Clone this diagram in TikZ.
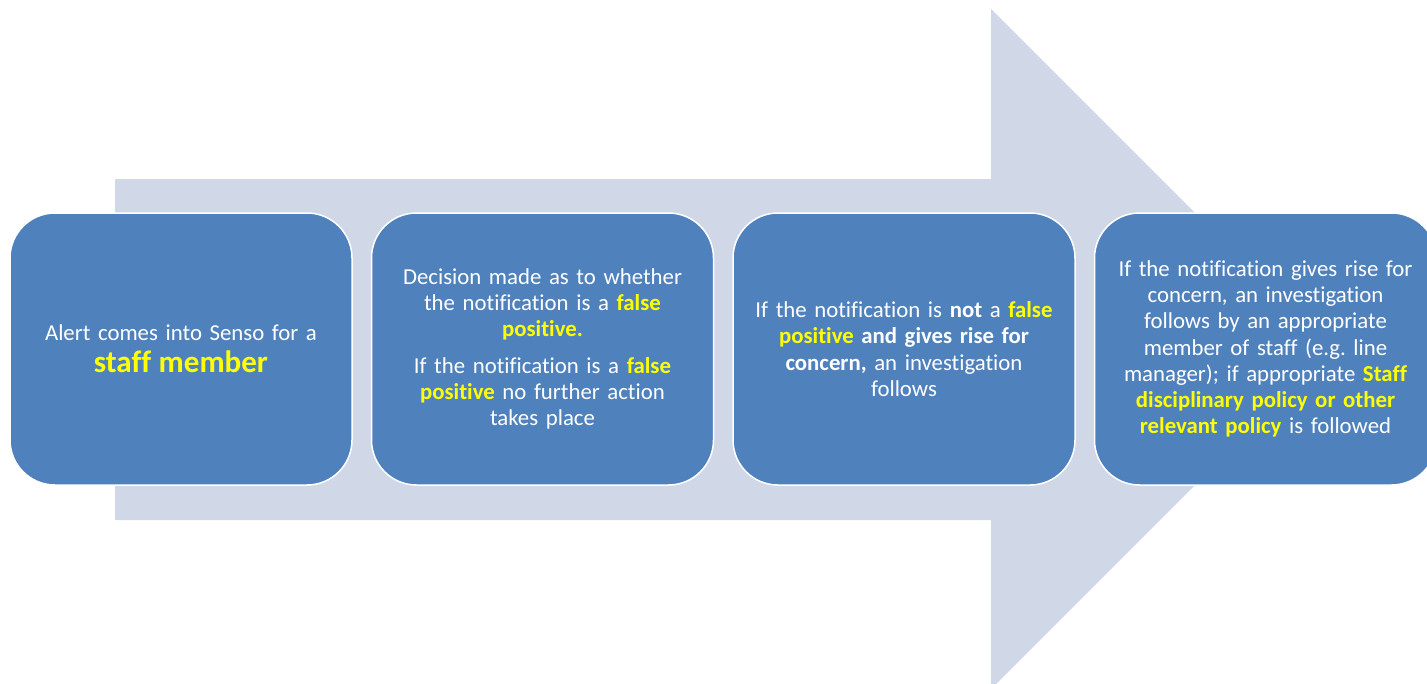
\documentclass[tikz,border=0pt]{standalone}
\usepackage{fontspec}
\setmainfont{Carlito}[Ligatures=NoCommon]
\usetikzlibrary{positioning}
\definecolor{arrowgrey}{HTML}{D0D8E8}
\definecolor{boxblue}{HTML}{4F81BD}
\definecolor{hilite}{HTML}{FFFF00}
\newcommand{\hl}[1]{{\bfseries\color{hilite}#1}}
\tikzset{
  stepbox/.style={draw=white, line width=1.5pt, fill=boxblue, rounded corners=45pt,
    minimum width=342pt, minimum height=272pt, text width=334pt, align=center,
    text=white, inner sep=0pt, font=\fontsize{22.8}{26.2}\selectfont},
}
\begin{document}
\begin{tikzpicture}[x=1pt, y=-1pt]
  % Frame
  \useasboundingbox (0,0) rectangle (1427,683);
  \clip (0,0) rectangle (1427,683);

  % Big arrow behind the steps
  \fill [arrowgrey] (115,179) -- (991,179) -- (991,9) -- (1331,349)
    -- (991,689) -- (991,520) -- (115,520) -- cycle;

  % Steps
  \node [stepbox] (alert) at (181,349)
    {Alert comes into Senso for a\\[6pt]
     \fontsize{31}{35}\selectfont\hl{staff member}};
  \node [stepbox, right=18pt of alert] (decide)
    {Decision made as to whether\\
     the notification is a \hl{false}\\
     \hl{positive.}\\[10pt]
     If the notification is a \hl{false}\\
     \hl{positive} no further action\\
     takes place};
  \node [stepbox, right=18pt of decide] (concern)
    {If the notification is \textbf{not} a \hl{false}\\
     \hl{positive} \textbf{and gives rise for}\\
     \textbf{concern,} an investigation\\
     follows};
  \node [stepbox, right=18pt of concern] (policy)
    {If the notification gives rise for\\
     concern, an investigation\\
     follows by an appropriate\\
     member of staff (e.g.\ line\\
     manager); if appropriate \hl{Staff}\\
     \hl{disciplinary policy or other}\\
     \hl{relevant policy} is followed};
\end{tikzpicture}
\end{document}
